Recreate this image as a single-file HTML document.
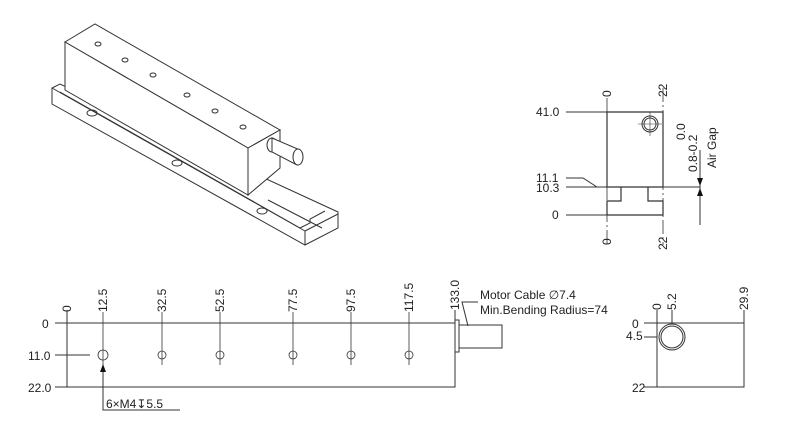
<!DOCTYPE html>
<html><head><meta charset="utf-8"><style>
html,body{margin:0;padding:0;background:#fff;}
svg{display:block;}
text{font-family:"Liberation Sans","DejaVu Sans",sans-serif;fill:#222;}
</style></head><body>
<svg width="800" height="448" viewBox="0 0 800 448" xmlns="http://www.w3.org/2000/svg">
<g fill="none" stroke="#333" stroke-width="1">
<!-- iso rail -->
<polygon points="52,88 60,84 338,212 338,228 305,245 52,104" fill="#fff"/>
<line x1="52" y1="88" x2="305" y2="231"/>
<line x1="305" y1="231" x2="305" y2="245"/>
<line x1="305" y1="231" x2="338" y2="214"/>
<line x1="60" y1="92" x2="300" y2="228"/>
<polyline points="300,228 310,223 310,219 325,211"/>
<line x1="268" y1="200" x2="322" y2="228"/>
<ellipse cx="92" cy="113" rx="5" ry="3"/>
<ellipse cx="177" cy="163" rx="5" ry="3"/>
<ellipse cx="262" cy="211" rx="5" ry="3"/>
<!-- iso block -->
<polygon points="65,42 95,24 280,130 248,148" fill="#fff"/>
<polygon points="65,42 248,148 248,195 65,90" fill="#fff"/>
<polygon points="248,148 280,130 280,168 248,195" fill="#fff"/>
<ellipse cx="98" cy="44" rx="3" ry="2"/>
<ellipse cx="125" cy="60" rx="3" ry="2"/>
<ellipse cx="153" cy="75" rx="3" ry="2"/>
<ellipse cx="187" cy="95" rx="3" ry="2"/>
<ellipse cx="215" cy="111" rx="3" ry="2"/>
<ellipse cx="243" cy="127" rx="3" ry="2"/>
<ellipse cx="272" cy="145" rx="5" ry="7"/>
<polygon points="272,138 300,150 297,165 272,152" fill="#fff"/>
<ellipse cx="298" cy="157" rx="5" ry="8" fill="#fff"/>

<!-- side view -->
<line x1="607" y1="98" x2="607" y2="245" stroke-dasharray="14,3,2,3" stroke-width="0.8"/>
<line x1="663" y1="88" x2="663" y2="245" stroke-dasharray="14,3,2,3" stroke-width="0.8"/>
<path d="M607,112 L663,112 L663,187 L607,187 Z" stroke-width="1.2"/>
<path d="M607,215 L607,201 L621,201 L621,187 M648,187 L648,201 L663,201 L663,215 L607,215" stroke-width="1.2"/>
<line x1="566" y1="112" x2="607" y2="112"/>
<polyline points="566,178 583,178 597,187 607,187"/>
<line x1="566" y1="187" x2="700" y2="187"/>
<line x1="566" y1="215" x2="607" y2="215"/>
<circle cx="650" cy="124" r="8"/>
<circle cx="650" cy="124" r="6"/>
<line x1="638" y1="124" x2="662" y2="124" stroke-width="0.6"/>
<line x1="650" y1="112" x2="650" y2="136" stroke-width="0.6"/>
<line x1="700" y1="150" x2="700" y2="225"/>
</g>
<polygon points="697,178 703,178 700,186" fill="#111"/>
<polygon points="697,196 703,196 700,188" fill="#111"/>
<g font-size="12">
<text x="536" y="116">41.0</text>
<text x="536" y="182">11.1</text>
<text x="536" y="192">10.3</text>
<text x="552" y="219">0</text>
<text transform="translate(611,97) rotate(-90)">0</text>
<text transform="translate(667,97) rotate(-90)">22</text>
<text transform="translate(611,245) rotate(-90)">0</text>
<text transform="translate(667,250) rotate(-90)">22</text>
<text transform="translate(685,140) rotate(-90)">0.0</text>
<text transform="translate(697,172) rotate(-90)">0.8-0.2</text>
<text transform="translate(716,168) rotate(-90)">Air Gap</text>
</g>

<!-- bottom long view -->
<g fill="none" stroke="#333" stroke-width="1">
<rect x="67" y="323" width="388" height="64"/>
<line x1="55" y1="323" x2="67" y2="323"/>
<line x1="55" y1="387" x2="67" y2="387"/>
<line x1="55" y1="355" x2="90" y2="355"/>
<line x1="67" y1="310" x2="67" y2="323"/>
<line x1="455" y1="310" x2="455" y2="323"/>
<rect x="455" y="320" width="4" height="32"/>
<rect x="459" y="325" width="43" height="23"/>
<polyline points="468,326 462,302 478,302"/>
<g stroke-width="0.8">
<line x1="103" y1="312" x2="103" y2="365"/><circle cx="103" cy="355" r="5"/>
<line x1="162" y1="312" x2="162" y2="365"/><circle cx="162" cy="355" r="4"/>
<line x1="220" y1="312" x2="220" y2="365"/><circle cx="220" cy="355" r="4"/>
<line x1="293" y1="312" x2="293" y2="365"/><circle cx="293" cy="355" r="4"/>
<line x1="351" y1="312" x2="351" y2="365"/><circle cx="351" cy="355" r="4"/>
<line x1="409" y1="312" x2="409" y2="365"/><circle cx="409" cy="355" r="4"/>
</g>
<polyline points="103,365 103,410 180,410"/>
<rect x="657" y="323" width="87" height="64"/>
<line x1="644" y1="323" x2="657" y2="323"/>
<line x1="644" y1="337" x2="657" y2="337"/>
<line x1="644" y1="387" x2="657" y2="387"/>
<line x1="657" y1="310" x2="657" y2="323"/>
<line x1="672" y1="310" x2="672" y2="323"/>
<line x1="744" y1="310" x2="744" y2="323"/>
<circle cx="672" cy="337" r="13"/>
<circle cx="672" cy="337" r="11"/>
</g>
<polygon points="100,372 106,372 103,364" fill="#111"/>
<g font-size="12">
<text x="42" y="328">0</text>
<text x="28" y="360">11.0</text>
<text x="28" y="392">22.0</text>
<text transform="translate(71,312) rotate(-90)">0</text>
<text transform="translate(107,312) rotate(-90)">12.5</text>
<text transform="translate(166,312) rotate(-90)">32.5</text>
<text transform="translate(224,312) rotate(-90)">52.5</text>
<text transform="translate(297,312) rotate(-90)">77.5</text>
<text transform="translate(355,312) rotate(-90)">97.5</text>
<text transform="translate(413,312) rotate(-90)">117.5</text>
<text transform="translate(459,310) rotate(-90)">133.0</text>
<text x="480" y="299">Motor Cable ∅7.4</text>
<text x="480" y="314">Min.Bending Radius=74</text>
<text x="106" y="408">6×M4↧5.5</text>
<text x="632" y="328">0</text>
<text x="626" y="340">4.5</text>
<text x="632" y="392">22</text>
<text transform="translate(661,310) rotate(-90)">0</text>
<text transform="translate(676,310) rotate(-90)">5.2</text>
<text transform="translate(748,310) rotate(-90)">29.9</text>
</g>
</svg>
</body></html>
